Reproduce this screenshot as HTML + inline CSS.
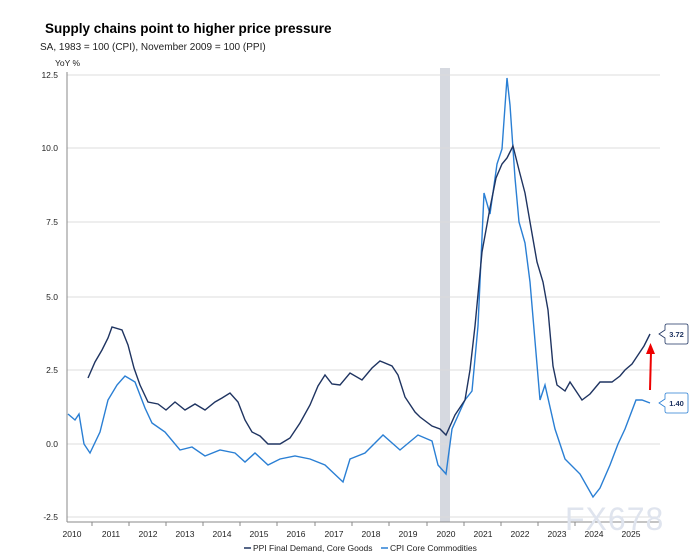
<!DOCTYPE html><html><head><style>body{margin:0;background:#fff;font-family:"Liberation Sans",sans-serif}</style></head><body>
<svg width="695" height="555" viewBox="0 0 695 555" xmlns="http://www.w3.org/2000/svg" font-family="Liberation Sans, sans-serif">
<text x="45" y="33" font-size="13.5" font-weight="bold" fill="#000">Supply chains point to higher price pressure</text>
<text x="40" y="50" font-size="10" fill="#222">SA, 1983 = 100 (CPI), November 2009 = 100 (PPI)</text>
<text x="55" y="66" font-size="8.5" fill="#222">YoY %</text>
<rect x="440" y="68" width="10" height="454" fill="#d6d9e0"/>
<g stroke="#dcdcdc" stroke-width="1">
<line x1="67" x2="660" y1="75" y2="75"/><line x1="67" x2="660" y1="148" y2="148"/><line x1="67" x2="660" y1="222" y2="222"/><line x1="67" x2="660" y1="297" y2="297"/><line x1="67" x2="660" y1="370" y2="370"/><line x1="67" x2="660" y1="444" y2="444"/><line x1="67" x2="660" y1="517" y2="517"/></g>
<line x1="67" y1="72" x2="67" y2="522" stroke="#888"/>
<line x1="67" y1="522" x2="660" y2="522" stroke="#888"/>
<g font-size="8.5" fill="#222" text-anchor="end">
<text x="58" y="78">12.5</text><text x="58" y="151">10.0</text><text x="58" y="225">7.5</text><text x="58" y="300">5.0</text><text x="58" y="373">2.5</text><text x="58" y="447">0.0</text><text x="58" y="520">-2.5</text></g>
<g font-size="8.5" fill="#222" text-anchor="middle">
<text x="72" y="537">2010</text><text x="111" y="537">2011</text><text x="148" y="537">2012</text><text x="185" y="537">2013</text><text x="222" y="537">2014</text><text x="259" y="537">2015</text><text x="296" y="537">2016</text><text x="334" y="537">2017</text><text x="371" y="537">2018</text><text x="408" y="537">2019</text><text x="446" y="537">2020</text><text x="483" y="537">2021</text><text x="520" y="537">2022</text><text x="557" y="537">2023</text><text x="594" y="537">2024</text><text x="631" y="537">2025</text></g>
<g stroke="#888"><line x1="92" x2="92" y1="522" y2="526"/><line x1="129" x2="129" y1="522" y2="526"/><line x1="166" x2="166" y1="522" y2="526"/><line x1="203" x2="203" y1="522" y2="526"/><line x1="240" x2="240" y1="522" y2="526"/><line x1="277" x2="277" y1="522" y2="526"/><line x1="315" x2="315" y1="522" y2="526"/><line x1="352" x2="352" y1="522" y2="526"/><line x1="389" x2="389" y1="522" y2="526"/><line x1="427" x2="427" y1="522" y2="526"/><line x1="464" x2="464" y1="522" y2="526"/><line x1="501" x2="501" y1="522" y2="526"/><line x1="538" x2="538" y1="522" y2="526"/><line x1="575" x2="575" y1="522" y2="526"/><line x1="612" x2="612" y1="522" y2="526"/></g>
<polyline fill="none" stroke="#2a7fd4" stroke-width="1.4" points="68,414 75,420 79,414 84,444 90,453 100,432 108,400 117,385 125,376 135,382 145,408 152,423 165,432 180,450 192,447 205,456 220,450 235,453 245,462 255,453 268,465 280,459 295,456 310,459 325,465 343,482 350,459 365,453 383,435 400,450 418,435 432,441 438,465 446,474 452,429 465,400 472,391 478,326 484,193 490,214 497,164 502,149 507,78 510,105 515,178 519,222 525,243 530,282 535,341 540,400 545,385 555,429 565,459 580,474 593,497 600,488 610,465 618,444 625,429 636,400 642,400 650,403"/>
<polyline fill="none" stroke="#1f3461" stroke-width="1.4" points="88,378 95,362 102,350 108,338 112,327 122,330 128,345 134,368 140,385 148,402 158,404 166,410 175,402 185,410 195,404 205,410 215,402 222,398 230,393 238,402 245,420 252,432 260,436 268,444 280,444 290,438 300,423 310,405 318,386 325,375 332,384 340,385 350,373 362,380 372,368 380,361 392,366 398,375 405,397 415,412 420,417 432,426 440,429 446,435 455,415 465,400 470,370 475,326 482,252 490,208 496,178 502,164 507,158 513,146 519,170 525,193 530,222 537,262 543,282 548,310 553,366 557,385 565,391 570,382 576,391 582,400 590,394 600,382 612,382 620,376 625,370 632,364 638,355 644,346 650,334"/>
<line x1="650" y1="390" x2="651" y2="352" stroke="#e00" stroke-width="2"/>
<polygon points="646,354 655,354 650.5,343" fill="#e00"/>
<g font-size="7.5" font-weight="bold">
<path d="M659,334 L665,330 V326 Q665,324 667,324 H686 Q688,324 688,326 V342 Q688,344 686,344 H667 Q665,344 665,342 V338 Z" fill="#fff" stroke="#1f3461" stroke-width="0.8"/>
<text x="676.5" y="337" text-anchor="middle" fill="#1f3461">3.72</text>
<path d="M659,403 L665,399 V395 Q665,393 667,393 H686 Q688,393 688,395 V411 Q688,413 686,413 H667 Q665,413 665,411 V407 Z" fill="#fff" stroke="#2a7fd4" stroke-width="0.8"/>
<text x="676.5" y="406" text-anchor="middle" fill="#1f3461">1.40</text></g>
<text x="565" y="530" font-size="32" fill="#dfe4ee" letter-spacing="1">FX678</text>
<line x1="244" x2="251" y1="548" y2="548" stroke="#1f3461" stroke-width="1.5"/>
<text x="253" y="551" font-size="8.5" fill="#222">PPI Final Demand, Core Goods</text>
<line x1="381" x2="388" y1="548" y2="548" stroke="#2a7fd4" stroke-width="1.5"/>
<text x="390" y="551" font-size="8.5" fill="#222">CPI Core Commodities</text>
</svg></body></html>
